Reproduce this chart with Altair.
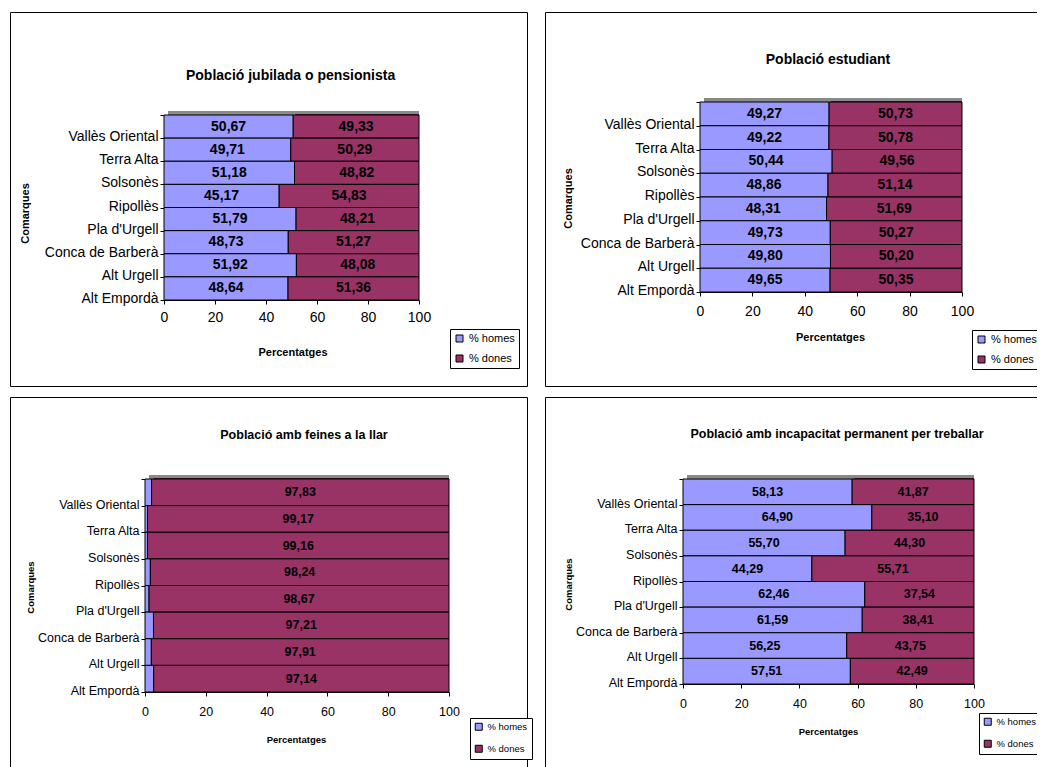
import altair as alt
import pandas as pd

comarques = ["Vallès Oriental", "Terra Alta", "Solsonès", "Ripollès",
             "Pla d'Urgell", "Conca de Barberà", "Alt Urgell", "Alt Empordà"]
series = ["% homes", "% dones"]
colors = ["#9999FF", "#993366"]
x_ticks = [0, 20, 40, 60, 80, 100]

titles = ["Població jubilada o pensionista", "Població estudiant",
          "Població amb feines a la llar", "Població amb incapacitat permanent per treballar"]

jub_homes = [50.67, 49.71, 51.18, 45.17, 51.79, 48.73, 51.92, 48.64]
jub_dones = [49.33, 50.29, 48.82, 54.83, 48.21, 51.27, 48.08, 51.36]

est_homes = [49.27, 49.22, 50.44, 48.86, 48.31, 49.73, 49.80, 49.65]
est_dones = [50.73, 50.78, 49.56, 51.14, 51.69, 50.27, 50.20, 50.35]

llar_homes = [2.17, 0.83, 0.84, 1.76, 1.33, 2.79, 2.09, 2.86]
llar_dones = [97.83, 99.17, 99.16, 98.24, 98.67, 97.21, 97.91, 97.14]

inc_homes = [58.13, 64.90, 55.70, 44.29, 62.46, 61.59, 56.25, 57.51]
inc_dones = [41.87, 35.10, 44.30, 55.71, 37.54, 38.41, 43.75, 42.49]

FONT = "Liberation Sans, Arial, sans-serif"


def panel(title, homes, dones, g):
    rows = []
    for c, h, d in zip(comarques, homes, dones):
        rows.append(dict(comarca=c, serie=series[0], value=h, start=0.0, end=h, tot=h + d))
        rows.append(dict(comarca=c, serie=series[1], value=d, start=h, end=h + d, tot=h + d))
    df = pd.DataFrame(rows)
    df["mid"] = (df["start"] + df["end"]) / 2
    df["label"] = df["value"].map(lambda v: f"{v:.2f}".replace(".", ","))
    df["show"] = df["value"] >= 5

    W, H = g["W"], g["H"]
    fs, sfs = g["fs"], g["sfs"]
    band = (g["y1"] - g["y0"]) / len(comarques)

    xscale = alt.Scale(domain=[0, 100], range=[g["x0"], g["x1"]], nice=False)
    yscale = alt.Scale(range=[g["y0"], g["y1"]], paddingInner=0, paddingOuter=0)

    xaxis = alt.Axis(title="Percentatges", values=x_ticks, format="d", grid=False,
                     offset=g["y1"] - H, tickSize=4, labelPadding=g["lp"],
                     labelFont=FONT, labelFontSize=fs, labelColor="black",
                     labelFlush=False, domainColor="black", tickColor="black",
                     titleFont=FONT, titleFontSize=sfs, titleFontWeight="bold",
                     titleColor="black", titleX=g["px"], titleY=g["py"] - g["y1"],
                     titleAlign="center", titleBaseline="middle")
    yaxis = alt.Axis(title="Comarques", offset=-g["x0"], tickSize=4, tickBand="extent",
                     labelPadding=2, labelOffset=band / 2 - 1.5, labelLimit=0,
                     labelFont=FONT, labelFontSize=fs, labelColor="black",
                     domainColor="black", tickColor="black",
                     titleFont=FONT, titleFontSize=sfs, titleFontWeight="bold",
                     titleColor="black", titleX=g["cx"] - g["x0"], titleY=g["cy"],
                     titleAngle=270, titleAlign="center", titleBaseline="middle")

    X = alt.X("start:Q", scale=xscale, axis=xaxis)
    X2 = alt.X2("end:Q")
    Y = alt.Y("comarca:N", sort=comarques, scale=yscale, axis=yaxis)

    base = alt.Chart(df)
    depth = base.transform_filter(alt.datum.serie == series[0]).mark_bar(
        color="#8a8a8a", xOffset=4, yOffset=-4).encode(
        x=X, x2=alt.X2("tot:Q"), y=Y)
    side = base.transform_filter(alt.datum.serie == series[1]).mark_bar(
        color="#4a1530", xOffset=2, yOffset=-1).encode(
        x=X, x2=X2, y=Y)
    bars = base.mark_bar(stroke="black", strokeWidth=1).encode(
        x=X, x2=X2, y=Y,
        color=alt.Color("serie:N", scale=alt.Scale(domain=series, range=colors),
                        legend=alt.Legend(title=None, orient="none",
                                          legendX=g["lx"], legendY=g["ly"],
                                          direction="vertical", strokeColor="black",
                                          fillColor="white", padding=4,
                                          symbolType="square", symbolSize=49,
                                          symbolStrokeColor="black", symbolStrokeWidth=1,
                                          labelFont=FONT, labelFontSize=sfs,
                                          labelColor="black", rowPadding=g["rp"],
                                          labelOffset=4)))
    texts = base.transform_filter("datum.show").mark_text(
        font=FONT, fontSize=fs, fontWeight="bold", color="black",
        align="center", baseline="middle").encode(
        x=alt.X("mid:Q", scale=xscale, axis=xaxis), y=Y, text="label:N")

    head = alt.Chart(pd.DataFrame({"t": [title]})).mark_text(
        font=FONT, fontSize=g["tfs"], fontWeight="bold", color="black",
        align="center", baseline="middle").encode(
        text="t:N", x=alt.value(g["tx"]), y=alt.value(g["ty"]))

    return alt.layer(depth, side, bars, texts, head).properties(
        width=W, height=H, view=alt.ViewBackground(stroke="black", strokeWidth=1))


W, H = 517, 374

g1 = dict(W=W, H=H, x0=154, x1=409, y0=103, y1=288, tx=280.6, ty=64, lp=6.5,
          px=282.5, py=340, cx=15.5, cy=201, lx=440, ly=317, fs=14, sfs=11, tfs=14, rp=8)
g2 = dict(W=W, H=H, x0=155, x1=417, y0=90, y1=280, tx=283, ty=48, lp=8,
          px=285, py=325, cx=23, cy=186, lx=427, ly=318, fs=14, sfs=11, tfs=14, rp=8)
g3 = dict(W=W, H=H, x0=135, x1=439, y0=82, y1=295, tx=294, ty=38, lp=9,
          px=286, py=342, cx=20, cy=190, lx=460, ly=321, fs=12.5, sfs=9.5, tfs=12.5, rp=10)
g4 = dict(W=W, H=H, x0=138, x1=429, y0=82, y1=287, tx=292, ty=37, lp=9,
          px=283, py=334, cx=23, cy=187, lx=434, ly=316, fs=12.5, sfs=9.5, tfs=12.5, rp=10)

p1 = panel(titles[0], jub_homes, jub_dones, g1)
p2 = panel(titles[1], est_homes, est_dones, g2)
p3 = panel(titles[2], llar_homes, llar_dones, g3)
p4 = panel(titles[3], inc_homes, inc_dones, g4)

res = dict(x="independent", y="independent", color="independent")
top = alt.hconcat(p1, p2, spacing=18, bounds="flush").resolve_scale(**res).resolve_legend(
    color="independent")
bottom = alt.hconcat(p3, p4, spacing=18, bounds="flush").resolve_scale(**res).resolve_legend(
    color="independent")

chart = alt.vconcat(top, bottom, spacing=3).resolve_scale(**res).resolve_legend(
    color="independent").properties(
    padding={"left": 1, "top": -4, "right": -26, "bottom": 0}
).configure(background="white")

chart.save("out.html", embed_options={"renderer": "svg", "actions": False})
